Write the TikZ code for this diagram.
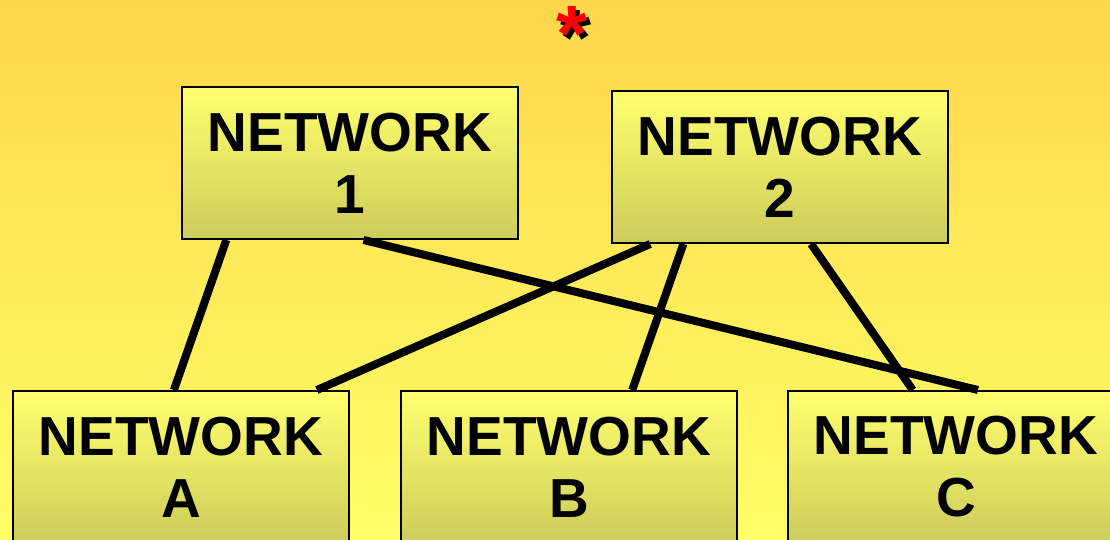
\documentclass[tikz,border=0pt]{standalone}
\usepackage{fontspec}
\setmainfont{Liberation Sans}
\usetikzlibrary{calc}
\definecolor{bgtop}{HTML}{FDD64A}
\definecolor{bgbottom}{HTML}{FFFF68}
\definecolor{boxtop}{HTML}{FFFF6E}
\definecolor{boxbottom}{HTML}{CCCC5A}
\tikzset{
  netbox/.style={draw=black, line width=2pt, top color=boxtop, bottom color=boxbottom,
    minimum width=336pt, minimum height=152pt, inner sep=0pt, anchor=north west,
    align=center, font=\fontsize{55}{62}\selectfont\bfseries},
  link/.style={line width=8pt, black}
}
\newcommand{\shadowstar}{\rlap{\hspace{4pt}\raisebox{-4pt}{\color{black}*}}{\color{red}*}}
\begin{document}
\begin{tikzpicture}[x=1pt,y=-1pt]
\useasboundingbox (0,0) rectangle (1110,540);
\clip (0,0) rectangle (1110,540);
\shade[top color=bgtop, bottom color=bgbottom] (0,0) rectangle (1110,540);

% asterisk with drop shadow
\node[font=\fontsize{80}{80}\selectfont\bfseries, inner sep=0pt] (star) at (572,36) {\shadowstar};

% boxes
\node[netbox] (n1) at (181,86) {NETWORK\\1};
\node[netbox] (n2) at (611,90) {NETWORK\\2};
\node[netbox] (na) at (12,390) {NETWORK\\A};
\node[netbox] (nb) at (400,390) {NETWORK\\B};
\node[netbox] (nc) at (787,390) {NETWORK\\C};

% attachment points along box edges
\coordinate (n1a) at ($(n1.south west)!0.134!(n1.south east)$);
\coordinate (n1c) at ($(n1.south west)!0.54!(n1.south east)$);
\coordinate (n2a) at ($(n2.south west)!0.116!(n2.south east)$);
\coordinate (n2b) at ($(n2.south west)!0.214!(n2.south east)$);
\coordinate (n2c) at ($(n2.south west)!0.592!(n2.south east)$);
\coordinate (na1) at ($(na.north west)!0.479!(na.north east)$);
\coordinate (na2) at ($(na.north west)!0.902!(na.north east)$);
\coordinate (nb2) at ($(nb.north west)!0.687!(nb.north east)$);
\coordinate (nc2) at ($(nc.north west)!0.372!(nc.north east)$);
\coordinate (nc1) at ($(nc.north west)!0.565!(nc.north east)$);

% links
\draw[link] (n1a) -- (na1);
\draw[link] (n1c) -- (nc1);
\draw[link] (n2a) -- (na2);
\draw[link] (n2b) -- (nb2);
\draw[link] (n2c) -- (nc2);
\end{tikzpicture}
\end{document}
